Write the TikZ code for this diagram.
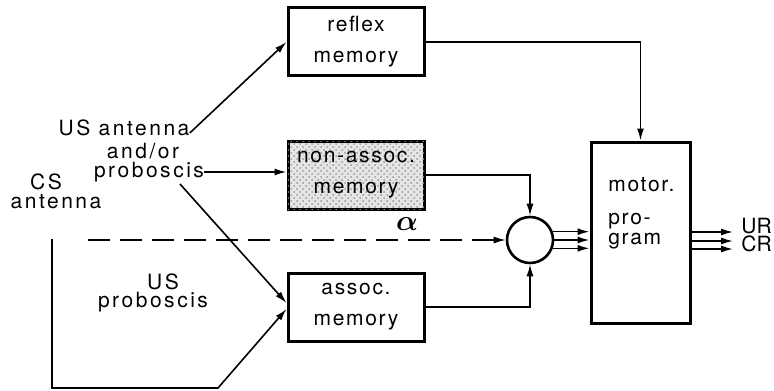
\documentclass[tikz,border=0pt]{standalone}
\usepackage{amsmath}
\usepackage{fontspec}
\setmainfont{TeX Gyre Heros}
\newfontfamily\widefont[LetterSpace=12]{TeX Gyre Heros}
\newfontfamily\boxfont[LetterSpace=8]{TeX Gyre Heros}
\usetikzlibrary{positioning,arrows.meta,patterns}

\tikzset{
    membox/.style={draw,line width=1.5pt,minimum width=68pt,minimum height=34pt,
        align=center,inner sep=1pt,font=\boxfont\fontsize{10.5}{15.5}\selectfont},
    lbl/.style={inner sep=0pt,anchor=base,font=\widefont\fontsize{10.5}{12}\selectfont},
    conn/.style={line width=0.8pt,-{Latex[length=6pt,width=3.5pt]}}
}

\begin{document}
\begin{tikzpicture}[x=0.5pt,y=-0.5pt]
    \useasboundingbox (0,0) rectangle (774,390);

    % memory stores
    \node[membox] (reflex) at (356,42) {reflex\\memory};
    \node[membox,fill=gray!20,postaction={pattern=crosshatch dots,pattern color=gray!80}]
        (nonassoc) at (356,175) {non-assoc.\\memory};
    \node[membox] (assoc) at (356,307) {assoc.\\memory};

    % summing point and motor program
    \node[draw,circle,line width=1.3pt,minimum size=23pt,inner sep=0pt] (sum) at (530,240) {};
    \node[draw,line width=1.5pt,minimum width=49.5pt,minimum height=90.5pt] (motor) at (640.5,232.5) {};
    \node[inner sep=0pt,anchor=west,align=left,font=\boxfont\fontsize{10.5}{10}\selectfont]
        (motortxt) at (608,213) {motor.\\[6.5pt]pro-\\gram};

    % stimulus labels
    \node[lbl] (usant) at (124,135) {US antenna};
    \node[lbl] (andor) at (143,158) {and/or};
    \node[lbl] (prob) at (149,177) {proboscis};
    \node[lbl] (cs) at (46,189) {CS};
    \node[lbl] (csant) at (56,208) {antenna};
    \node[lbl] (us) at (163,289) {US};
    \node[lbl] (usprob) at (153,307) {proboscis};
    \node[inner sep=0pt,font=\Large] (alpha) at (407,224) {$\boldsymbol{\alpha}$};

    \coordinate (fork) at (180,184);
    \coordinate (cstop) at (52,239);
    \coordinate (csbot) at (52,388);
    \coordinate (csturn) at (218,388);
    \coordinate (dashstart) at (88,240);

    % inputs
    \draw[conn] ([yshift=1pt]usant.base east) -- (reflex.west);
    \draw[conn] ([yshift=2.5pt]prob.base east) -- ([yshift=2.5pt]prob.base east -| nonassoc.west);
    \draw[conn] (fork) -- ([yshift=2pt]assoc.west);
    \draw[conn] (cstop) -- (csbot) -- (csturn) -- ([yshift=-1pt]assoc.west);
    \draw[conn,dash pattern=on 11pt off 5pt] (dashstart) -- (sum.west);

    % into the summing point and the motor program
    \draw[conn] (reflex.east) -| (motor.north);
    \draw[conn] (nonassoc.east) -| (sum.north);
    \draw[conn] (assoc.east) -| (sum.south);
    \foreach \a in {20,0,-20}
        \draw[conn] (sum.\a) -- (sum.\a -| motor.west);

    % responses
    \coordinate (ur) at (733,232);
    \coordinate (mid) at (733,241);
    \coordinate (cr) at (733,249);
    \foreach \c in {ur,mid,cr}
        \draw[conn] (motor.east |- \c) -- (\c);
    \node[inner sep=0pt,anchor=west,font=\fontsize{10.5}{12}\selectfont] (urlbl) at (741,226) {UR};
    \node[inner sep=0pt,anchor=west,font=\fontsize{10.5}{12}\selectfont] (crlbl) at (741,244) {CR};
\end{tikzpicture}
\end{document}
